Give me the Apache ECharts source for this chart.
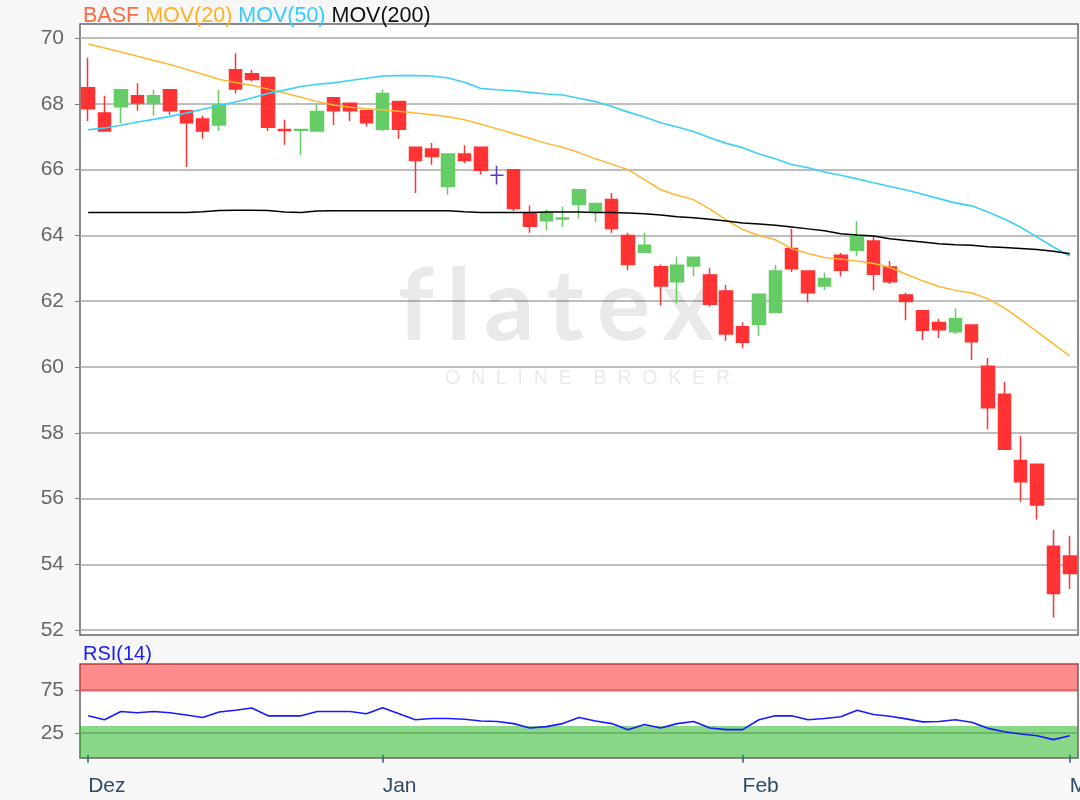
<!DOCTYPE html>
<html>
<head>
<meta charset="utf-8">
<script src="https://cdn.jsdelivr.net/npm/echarts@6/dist/echarts.min.js"></script>
<style>
  html, body { margin: 0; background: #f7f7f7; }
  #chart { width: 1080px; height: 800px; }
</style>
</head>
<body>
<div id="chart"></div>
<script>
// trading days Dec 2019 - Mar 2020
const dates = [
  '2019-12-02', '2019-12-03', '2019-12-04', '2019-12-05', '2019-12-06', '2019-12-09', '2019-12-10', '2019-12-11', '2019-12-12', '2019-12-13',
  '2019-12-16', '2019-12-17', '2019-12-18', '2019-12-19', '2019-12-20', '2019-12-23', '2019-12-27', '2019-12-30',
  '2020-01-02', '2020-01-03', '2020-01-06', '2020-01-07', '2020-01-08', '2020-01-09', '2020-01-10', '2020-01-13', '2020-01-14', '2020-01-15',
  '2020-01-16', '2020-01-17', '2020-01-20', '2020-01-21', '2020-01-22', '2020-01-23', '2020-01-24', '2020-01-27', '2020-01-28', '2020-01-29',
  '2020-01-30', '2020-01-31',
  '2020-02-03', '2020-02-04', '2020-02-05', '2020-02-06', '2020-02-07', '2020-02-10', '2020-02-11', '2020-02-12', '2020-02-13', '2020-02-14',
  '2020-02-17', '2020-02-18', '2020-02-19', '2020-02-20', '2020-02-21', '2020-02-24', '2020-02-25', '2020-02-26', '2020-02-27', '2020-02-28',
  '2020-03-02'
]
const opens = [
  68.49, 67.72, 67.91, 68.25, 68.03, 68.43, 67.79, 67.54, 67.36, 69.04,
  68.92, 68.80, 67.22, 67.20, 67.18, 68.19, 68.02, 67.79, 67.23, 68.07,
  66.68, 66.63, 65.49, 66.48, 66.68, 65.83, 66.00, 64.69, 64.45, 64.50,
  64.94, 64.74, 65.09, 64.00, 63.49, 63.05, 62.59, 63.07, 62.80, 62.31,
  61.22, 61.30, 61.66, 63.60, 62.92, 62.46, 63.40, 63.55, 63.83, 63.04,
  62.19, 61.71, 61.35, 61.07, 61.28, 60.02, 59.17, 57.16, 57.04, 54.55,
  54.25
]
const closes = [
  67.85, 67.18, 68.43, 68.03, 68.25, 67.79, 67.43, 67.18, 67.97, 68.45,
  68.74, 67.29, 67.19, 67.22, 67.77, 67.79, 67.79, 67.43, 68.32, 67.23,
  66.28, 66.40, 66.48, 66.28, 65.98, 65.83, 64.82, 64.28, 64.69, 64.53,
  65.39, 64.97, 64.21, 63.12, 63.70, 62.46, 63.09, 63.34, 61.91, 61.00,
  60.75, 62.21, 62.92, 62.99, 62.26, 62.69, 62.94, 63.96, 62.82, 62.59,
  61.99, 61.12, 61.13, 61.47, 60.77, 58.76, 57.50, 56.51, 55.80, 53.11,
  53.72
]
const lows = [
  67.48, 67.18, 67.41, 67.79, 67.64, 67.67, 66.08, 66.94, 67.18, 68.32,
  68.68, 67.18, 66.76, 66.45, 67.18, 67.36, 67.48, 67.31, 67.18, 66.94,
  65.29, 66.15, 65.24, 66.20, 65.85, 65.55, 64.74, 64.08, 64.15, 64.26,
  64.52, 64.40, 64.08, 62.94, 63.49, 61.86, 61.93, 62.77, 61.84, 60.80,
  60.57, 60.95, 61.66, 62.89, 61.96, 62.34, 62.75, 63.37, 62.33, 62.52,
  61.42, 60.82, 60.88, 61.00, 60.21, 58.11, 57.50, 55.90, 55.36, 52.38,
  53.25
]
const highs = [
  69.41, 68.25, 68.43, 68.63, 68.43, 68.43, 67.79, 67.64, 68.43, 69.54,
  69.04, 68.80, 67.52, 67.22, 68.02, 68.19, 68.02, 67.79, 68.44, 68.07,
  66.68, 66.81, 66.48, 66.74, 66.68, 66.12, 66.00, 64.91, 64.79, 64.87,
  65.39, 64.97, 65.29, 64.08, 64.08, 63.12, 63.35, 63.34, 63.00, 62.49,
  61.35, 62.24, 63.10, 64.20, 62.92, 62.87, 63.47, 64.43, 63.96, 63.22,
  62.26, 61.71, 61.47, 61.78, 61.28, 60.27, 59.54, 57.90, 57.04, 55.04,
  54.87
]
const ma20 = [
  69.82, 69.70, 69.58, 69.45, 69.32, 69.20, 69.05, 68.90, 68.75, 68.65,
  68.57, 68.45, 68.33, 68.20, 68.07, 67.97, 67.90, 67.85, 67.82, 67.78,
  67.72, 67.67, 67.61, 67.52, 67.38, 67.24, 67.10, 66.95, 66.80, 66.68,
  66.52, 66.33, 66.17, 66.00, 65.70, 65.39, 65.22, 65.09, 64.80, 64.47,
  64.18, 64.00, 63.87, 63.60, 63.45, 63.33, 63.28, 63.22, 63.15, 63.03,
  62.82, 62.62, 62.45, 62.33, 62.25, 62.07, 61.80, 61.45, 61.07, 60.70,
  60.33
]
const ma50 = [
  67.21, 67.27, 67.35, 67.45, 67.53, 67.62, 67.72, 67.84, 67.95, 68.06,
  68.18, 68.32, 68.42, 68.53, 68.60, 68.64, 68.71, 68.78, 68.85, 68.86,
  68.86, 68.85, 68.79, 68.66, 68.47, 68.43, 68.40, 68.35, 68.30, 68.27,
  68.17, 68.07, 67.92, 67.75, 67.60, 67.43, 67.30, 67.16, 66.97, 66.80,
  66.67, 66.48, 66.33, 66.16, 66.06, 65.93, 65.83, 65.72, 65.60, 65.49,
  65.38, 65.25, 65.12, 64.99, 64.90, 64.71, 64.50, 64.25, 63.95, 63.65,
  63.37
]
const ma200 = [
  64.70, 64.70, 64.70, 64.70, 64.70, 64.70, 64.70, 64.72, 64.76, 64.77,
  64.77, 64.76, 64.71, 64.70, 64.74, 64.75, 64.75, 64.75, 64.75, 64.75,
  64.75, 64.75, 64.75, 64.72, 64.70, 64.70, 64.70, 64.70, 64.71, 64.71,
  64.71, 64.70, 64.70, 64.68, 64.66, 64.62, 64.57, 64.54, 64.49, 64.44,
  64.38, 64.35, 64.31, 64.26, 64.20, 64.14, 64.05, 64.01, 63.98, 63.90,
  63.85, 63.80, 63.75, 63.72, 63.70, 63.66, 63.63, 63.60, 63.57, 63.52,
  63.44
]
const rsi = [
  45, 40.5, 50, 48.5, 50, 48.5, 46, 43, 49.5, 51.5,
  54, 45, 45, 45, 50, 50, 50, 47.5, 54.5, 47.5,
  40.5, 42, 42, 41, 39, 38.5, 36, 31, 32.5, 36,
  43, 39, 36, 29, 35, 31, 36, 38.5, 31, 29,
  29, 40.5, 45, 45, 40.5, 42, 44, 51.5, 46.5, 44.5,
  41.5, 38, 38.5, 40.5, 37.5, 30.5, 26.5, 24, 22, 17.5,
  22
]
// month tick labels and where they sit
const monthLabels = ['Dez', 'Jan', 'Feb', 'M']
const monthStarts = [0, 18, 40, 60]
const priceTicks = [52, 54, 56, 58, 60, 62, 64, 66, 68, 70]
const rsiTicks = [25, 75]
const rsiBands = { upper: 73, lower: 33.3 }

const font = 'Liberation Sans, Arial, sans-serif'
const candleData = dates.map((d, i) => [opens[i], closes[i], lows[i], highs[i]])
const isMonth = (i) => monthStarts.indexOf(i) >= 0

const chart = echarts.init(document.getElementById('chart'))
chart.setOption({
  animation: false,
  backgroundColor: '#f7f7f7',
  textStyle: { fontFamily: font },
  title: [
    {
      left: 83,
      top: 5,
      padding: 0,
      text: '{a|BASF} {b|MOV(20)} {c|MOV(50)} {d|MOV(200)}',
      textStyle: {
        fontSize: 21.5,
        fontWeight: 'normal',
        rich: {
          a: { color: '#ff6a40', fontSize: 21.5, fontFamily: font },
          b: { color: '#ffb020', fontSize: 21.5, fontFamily: font },
          c: { color: '#33ccff', fontSize: 21.5, fontFamily: font },
          d: { color: '#111', fontSize: 21.5, fontFamily: font }
        }
      }
    },
    {
      left: 83,
      top: 644,
      padding: 0,
      text: 'RSI(14)',
      textStyle: { color: '#1a1aff', fontSize: 20, fontWeight: 'normal', fontFamily: font }
    }
  ],
  // watermark
  graphic: [
    {
      type: 'text',
      left: 398,
      top: 258,
      z: 1,
      style: { text: 'f\u2009l\u2009a\u2009t\u2009e\u2009x', fontSize: 100, fontWeight: 'bold', fontFamily: 'Lato', fill: 'rgba(0,0,0,0.085)' }
    },
    {
      type: 'text',
      left: 445,
      top: 369,
      z: 1,
      style: { text: 'O  N  L  I  N  E    B  R  O  K  E  R', fontSize: 19.5, fontFamily: font, fill: 'rgba(0,0,0,0.085)' }
    }
  ],
  grid: [
    { left: 80, right: 2, top: 24, height: 611, outerBoundsMode: 'none', show: true, backgroundColor: '#fff', borderColor: '#666', borderWidth: 1.5 },
    { left: 80, right: 2, top: 664, height: 94, outerBoundsMode: 'none', show: true, backgroundColor: '#fff', borderColor: '#666', borderWidth: 1.5 }
  ],
  xAxis: [
    {
      gridIndex: 0,
      type: 'category',
      data: dates,
      axisLine: { show: false },
      axisTick: { show: false },
      axisLabel: { show: false },
      splitLine: { show: false }
    },
    {
      gridIndex: 1,
      type: 'category',
      data: dates,
      axisLine: { show: false },
      axisTick: {
        show: true,
        alignWithLabel: true,
        interval: (i) => isMonth(i),
        length: 8,
        lineStyle: { color: '#3a5570', width: 1.5 }
      },
      axisLabel: {
        interval: (i) => isMonth(i),
        formatter: (v, i) => monthLabels[monthStarts.indexOf(i)] || '',
        align: 'left',
        color: '#2e4a66',
        fontSize: 21,
        margin: 18
      },
      splitLine: { show: false }
    }
  ],
  yAxis: [
    {
      gridIndex: 0,
      min: 51.85,
      max: 70.43,
      minInterval: 2,
      maxInterval: 2,
      splitNumber: 9,
      axisLine: { show: false },
      axisTick: { show: true, length: 5, customValues: priceTicks, lineStyle: { color: '#777' } },
      axisLabel: { customValues: priceTicks, color: '#666', fontSize: 21, margin: 16 },
      splitLine: { lineStyle: { color: '#a8a8a8', width: 1.5 } }
    },
    {
      gridIndex: 1,
      min: -3.8,
      max: 105,
      minInterval: 25,
      maxInterval: 25,
      splitNumber: 4,
      axisLine: { show: false },
      axisTick: { show: true, length: 5, customValues: rsiTicks, lineStyle: { color: '#777' } },
      axisLabel: { customValues: rsiTicks, color: '#666', fontSize: 21, margin: 16 },
      splitLine: { lineStyle: { color: '#a8a8a8', width: 1.5 } }
    }
  ],
  series: [
    {
      name: 'BASF',
      type: 'candlestick',
      xAxisIndex: 0,
      yAxisIndex: 0,
      data: candleData,
      barWidth: 13,
      itemStyle: {
        color: '#66cc66',
        color0: '#ff3333',
        borderColor: '#66cc66',
        borderColor0: '#ff3333',
        borderColorDoji: '#5533cc',
        borderWidth: 1.5
      }
    },
    {
      name: 'MOV(20)',
      type: 'line',
      data: ma20,
      symbol: 'none',
      lineStyle: { color: '#ffb733', width: 1.5 }
    },
    {
      name: 'MOV(50)',
      type: 'line',
      data: ma50,
      symbol: 'none',
      lineStyle: { color: '#3dd0f5', width: 1.6 }
    },
    {
      name: 'MOV(200)',
      type: 'line',
      data: ma200,
      symbol: 'none',
      lineStyle: { color: '#000', width: 1.5 }
    },
    {
      name: 'RSI(14)',
      type: 'line',
      xAxisIndex: 1,
      yAxisIndex: 1,
      data: rsi,
      symbol: 'none',
      lineStyle: { color: '#1a1aff', width: 1.6 },
      markArea: {
        silent: true,
        data: [
          [{ yAxis: rsiBands.upper, itemStyle: { color: 'rgba(255,26,26,0.5)' } }, { yAxis: 105 }],
          [{ yAxis: -3.8, itemStyle: { color: 'rgba(17,177,17,0.5)' } }, { yAxis: rsiBands.lower }]
        ]
      }
    }
  ]
})
</script>
</body>
</html>
